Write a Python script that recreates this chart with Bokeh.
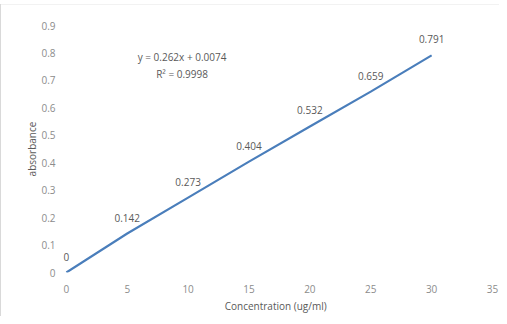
from bokeh.plotting import figure
from bokeh.models import ColumnDataSource, Range1d, FixedTicker, LabelSet, Label, InlineStyleSheet
from bokeh.embed import file_html
from bokeh.resources import INLINE
from bokeh.core.properties import value

concentration = [0, 5, 10, 15, 20, 25, 30]
absorbance = [0.0, 0.142, 0.273, 0.404, 0.532, 0.659, 0.791]
labels = ["0", "0.142", "0.273", "0.404", "0.532", "0.659", "0.791"]
x_ticks = [0, 5, 10, 15, 20, 25, 30, 35]
y_ticks = [0, 0.1, 0.2, 0.3, 0.4, 0.5, 0.6, 0.7, 0.8, 0.9]
y_tick_labels = {0: "0", 0.1: "0.1", 0.2: "0.2", 0.3: "0.3", 0.4: "0.4",
                 0.5: "0.5", 0.6: "0.6", 0.7: "0.7", 0.8: "0.8", 0.9: "0.9"}
equation = "y = 0.262x + 0.0074"
r2 = "R² = 0.9998"

FONT = "Open Sans"
src = ColumnDataSource(dict(x=concentration, y=absorbance, lab=labels))

p = figure(width=499, height=316, output_backend="svg", toolbar_location=None,
           x_range=Range1d(-0.4, 35), y_range=Range1d(0, 0.9),
           min_border_left=61, min_border_right=7, min_border_top=25, min_border_bottom=44)
p.outline_line_color = None
p.xgrid.grid_line_color = None
p.ygrid.grid_line_color = None
p.stylesheets = [InlineStyleSheet(css="""
:host::after { content: ''; position: absolute; left: 0px; top: 4px; bottom: 0px;
  width: 1px; background: #d9d9d9; z-index: 10; pointer-events: none; }
:host::before { content: ''; position: absolute; left: 0px; right: 0px; top: 4px;
  height: 1px; background: #f2f2f2; z-index: 10; pointer-events: none; }
""")]

for ax in (p.xaxis, p.yaxis):
    ax.axis_line_color = None
    ax.major_tick_line_color = None
    ax.minor_tick_line_color = None
    ax.major_label_text_font = FONT
    ax.major_label_text_font_size = "10px"
    ax.major_label_text_color = "#8c8c8c"
    ax.axis_label_text_font = FONT
    ax.axis_label_text_font_size = "10px"
    ax.axis_label_text_font_style = "normal"
    ax.axis_label_text_color = "#595959"

p.xaxis.ticker = FixedTicker(ticks=x_ticks)
p.yaxis.ticker = FixedTicker(ticks=y_ticks)
p.yaxis.major_label_overrides = y_tick_labels
p.xaxis.major_label_standoff = 6
p.yaxis.major_label_standoff = 0
p.xaxis.axis_label = "Concentration  (ug/ml)"
p.yaxis.axis_label = "absorbance"
p.xaxis.axis_label_standoff = 3
p.yaxis.axis_label_standoff = -1

p.line("x", "y", source=src, line_color="#4a7ebb", line_width=2.2)

p.add_layout(LabelSet(x="x", y="y", text="lab", source=src, y_offset=12,
                      text_align="center", text_baseline="bottom",
                      text_font=value(FONT), text_font_size="10px",
                      text_color="#595959"))

p.add_layout(Label(x=9.5, y=0.787, text=equation, text_align="center",
                   text_baseline="middle", text_font=FONT,
                   text_font_size="10px", text_color="#595959"))
p.add_layout(Label(x=9.5, y=0.723, text=r2, text_align="center",
                   text_baseline="middle", text_font=FONT,
                   text_font_size="10px", text_color="#595959"))

open("out.html", "w").write(file_html(p, INLINE))
